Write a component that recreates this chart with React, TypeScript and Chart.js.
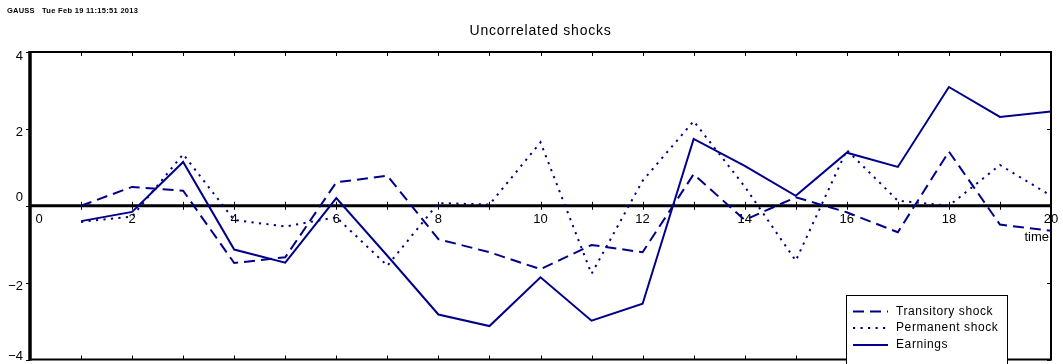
import { useEffect, useRef } from "react";
import { Chart, registerables } from "chart.js";

Chart.register(...registerables);

// Time periods on the horizontal axis
const periods = [1, 2, 3, 4, 5, 6, 7, 8, 9, 10, 11, 12, 13, 14, 15, 16, 17, 18, 19, 20];

// Simulated series
const transitoryShock = [0.0, 0.49, 0.39, -1.49, -1.34, 0.61, 0.78, -0.87, -1.21, -1.65, -1.02, -1.21, 0.82, -0.37, 0.22, -0.17, -0.69, 1.41, -0.49, -0.65];
const permanentShock = [-0.42, -0.28, 1.34, -0.37, -0.54, -0.3, -1.56, 0.07, 0.03, 1.65, -1.77, 0.65, 2.2, 0.5, -1.43, 1.45, 0.13, 0.0, 1.06, 0.26];
const earnings = [-0.4, -0.16, 1.14, -1.14, -1.48, 0.2, -1.3, -2.83, -3.13, -1.86, -2.99, -2.55, 1.74, 1.04, 0.26, 1.38, 1.01, 3.09, 2.31, 2.45];

// Axis ticks
const xTickValues = [0, 2, 4, 6, 8, 10, 12, 14, 16, 18, 20];
const yTickValues = [-4, -2, 0, 2, 4];

// Texts
const chartTitle = "Uncorrelated shocks";
const stampProgram = "GAUSS";
const stampDate = "Tue Feb 19 11:15:51 2013";
const xAxisName = "time";
const seriesNames = ["Transitory shock", "Permanent shock", "Earnings"];

const NAVY = "#00008a";
const DASH_PATTERNS: number[][] = [[11, 6], [2.2, 5.3], []];

const toPoints = (vals: number[]) => periods.map((p, i) => ({ x: p, y: vals[i] }));

const fmtTick = (v: number) => (v < 0 ? "\u2212" + Math.abs(v) : String(v));

const gaussFrame = {
  id: "gaussFrame",
  beforeDatasetsDraw(chart: any) {
    const { ctx, chartArea: a, scales } = chart;
    const xs = scales.x;
    const ys = scales.y;
    const y0 = ys.getPixelForValue(0);
    ctx.save();
    ctx.strokeStyle = "#000";
    ctx.lineCap = "butt";

    // top, right, bottom borders
    ctx.lineWidth = 2;
    ctx.beginPath();
    ctx.moveTo(a.left, a.top);
    ctx.lineTo(a.right, a.top);
    ctx.lineTo(a.right, a.bottom);
    ctx.lineTo(a.left, a.bottom);
    ctx.stroke();

    // left axis
    ctx.lineWidth = 3.5;
    ctx.beginPath();
    ctx.moveTo(a.left, a.top - 1);
    ctx.lineTo(a.left, a.bottom + 1);
    ctx.stroke();

    // zero line (time axis)
    ctx.lineWidth = 3;
    ctx.beginPath();
    ctx.moveTo(a.left, y0);
    ctx.lineTo(a.right, y0);
    ctx.stroke();

    // tick marks at every integer period
    ctx.lineWidth = 1;
    for (let t = 1; t < 20; t++) {
      const px = Math.round(xs.getPixelForValue(t)) + 0.5;
      ctx.beginPath();
      ctx.moveTo(px, y0 - 4);
      ctx.lineTo(px, y0 + 4);
      ctx.moveTo(px, a.top);
      ctx.lineTo(px, a.top + 4);
      ctx.moveTo(px, a.bottom);
      ctx.lineTo(px, a.bottom - 4);
      ctx.stroke();
    }
    // y ticks
    yTickValues.forEach((v) => {
      const py = Math.round(ys.getPixelForValue(v)) + 0.5;
      ctx.beginPath();
      ctx.moveTo(a.left - 4, py);
      ctx.lineTo(a.left, py);
      ctx.moveTo(a.right, py);
      ctx.lineTo(a.right - 4, py);
      ctx.stroke();
    });

    // x tick labels under the zero line
    ctx.fillStyle = "#000";
    ctx.font = "13px 'Liberation Sans', Arial, sans-serif";
    ctx.textAlign = "center";
    ctx.textBaseline = "middle";
    xTickValues.forEach((v) => {
      const px = xs.getPixelForValue(v) + (v === 0 ? 9 : 0);
      ctx.fillText(fmtTick(v), px, y0 + 14);
    });

    // y tick labels
    ctx.textAlign = "right";
    yTickValues.forEach((v) => {
      let py = ys.getPixelForValue(v);
      if (v === 0) py -= 8;
      else if (v === -4) py -= 3;
      else py += 4;
      ctx.fillText(fmtTick(v), a.left - 7, py);
    });

    // axis name
    ctx.textAlign = "right";
    ctx.fillText(xAxisName, a.right - 2, y0 + 32);

    // title
    ctx.textAlign = "center";
    ctx.font = "14px 'Liberation Sans', Arial, sans-serif";
    ctx.letterSpacing = "0.75px";
    ctx.fillText(chartTitle, (a.left + a.right) / 2, 31);

    // program stamp
    ctx.textAlign = "left";
    ctx.font = "bold 7.5px 'Liberation Sans', Arial, sans-serif";
    ctx.letterSpacing = "0.2px";
    ctx.fillText(stampProgram, 7, 11);
    ctx.letterSpacing = "0.3px";
    ctx.fillText(stampDate, 42, 11);
    ctx.letterSpacing = "0px";
    ctx.restore();
  },
  afterDraw(chart: any) {
    const { ctx } = chart;
    ctx.save();
    const bx = 846.5;
    const by = 295.5;
    const bw = 161;
    const bh = 80;
    ctx.fillStyle = "#fff";
    ctx.fillRect(bx, by, bw, bh);
    ctx.strokeStyle = "#000";
    ctx.lineWidth = 1;
    ctx.strokeRect(bx, by, bw, bh);
    ctx.font = "12px 'Liberation Sans', Arial, sans-serif";
    ctx.textAlign = "left";
    ctx.textBaseline = "middle";
    const rows = [311.5, 328, 345];
    seriesNames.forEach((name, i) => {
      ctx.strokeStyle = NAVY;
      ctx.lineWidth = 2;
      ctx.setLineDash(DASH_PATTERNS[i]);
      ctx.beginPath();
      ctx.moveTo(853, rows[i]);
      ctx.lineTo(888, rows[i]);
      ctx.stroke();
      ctx.setLineDash([]);
      ctx.fillStyle = "#000";
      ctx.letterSpacing = "0.6px";
      ctx.fillText(name, 896, rows[i]);
      ctx.letterSpacing = "0px";
    });
    ctx.restore();
  },
};

export default function App() {
  const canvasRef = useRef<HTMLCanvasElement | null>(null);

  useEffect(() => {
    const canvas = canvasRef.current;
    if (!canvas) return;
    const series = [transitoryShock, permanentShock, earnings];
    const chart = new Chart(canvas, {
      type: "line",
      data: {
        datasets: series.map((vals, i) => ({
          label: seriesNames[i],
          data: toPoints(vals),
          borderColor: NAVY,
          borderWidth: 2,
          borderDash: DASH_PATTERNS[i],
          pointRadius: 0,
          fill: false,
          tension: 0,
        })),
      },
      options: {
        responsive: false,
        animation: false,
        devicePixelRatio: 1,
        layout: { padding: { left: 30, right: 12, top: 52, bottom: 4.5 } },
        scales: {
          x: { type: "linear", min: 0, max: 20, display: false },
          y: { type: "linear", min: -4, max: 4, display: false },
        },
        plugins: {
          legend: { display: false },
          tooltip: { enabled: false },
          title: { display: false },
        },
      },
      plugins: [gaussFrame],
    });
    return () => chart.destroy();
  }, []);

  return (
    <div style={{ position: "fixed", left: 0, top: 0, width: 1063, height: 364, background: "#fff" }}>
      <canvas ref={canvasRef} width={1063} height={364} />
    </div>
  );
}
